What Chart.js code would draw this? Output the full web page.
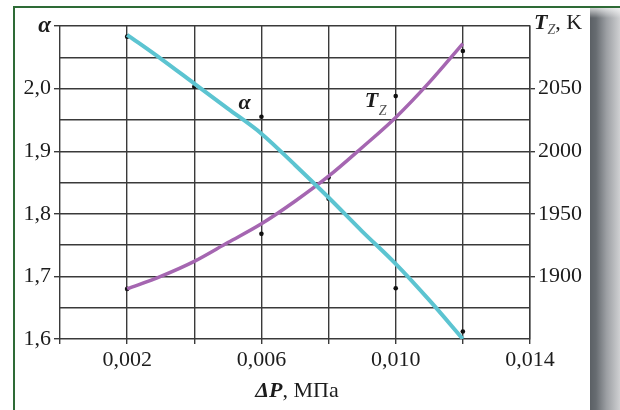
<!DOCTYPE html>
<html>
<head>
<meta charset="utf-8">
<script src="https://cdn.jsdelivr.net/npm/chart.js@4/dist/chart.umd.min.js"></script>
<style>
  body { margin: 0; background: #fff; width: 620px; height: 410px; overflow: hidden; position: relative; }
  .frame { position: absolute; left: 13px; top: 6px; right: 0; bottom: 0; border-left: 2px solid #2e6b36; border-top: 2px solid #2e6b36; }
  .shadow { position: absolute; left: 590px; top: 8px; width: 30px; bottom: 0;
    background: linear-gradient(to right, #5b6065 0%, #676c71 20%, #9c9fa3 55%, #cfd0d2 100%); }
  .shadow-top { position: absolute; left: 590px; top: 8px; width: 30px; height: 10px;
    background: linear-gradient(to bottom, rgba(255,255,255,0.7), rgba(255,255,255,0)); }
  canvas { position: absolute; left: 0; top: 0; }
</style>
</head>
<body>
<div class="frame"></div>
<div class="shadow"></div>
<div class="shadow-top"></div>
<canvas id="chart" width="620" height="410"></canvas>
<script>
"use strict";
// pressure drop, MPa
const dpCurve = [0.002, 0.003, 0.004, 0.005, 0.006, 0.007, 0.008, 0.009, 0.010, 0.011, 0.012];
const alphaCurve = [2.086, 2.048, 2.008, 1.968, 1.928, 1.878, 1.826, 1.772, 1.720, 1.662, 1.600];
const tzCurve = [1890, 1900, 1912, 1927, 1942, 1960, 1980, 2003, 2027, 2055, 2086];

// measured points
const dpAlphaPts = [0.002, 0.004, 0.006, 0.008, 0.010, 0.012];
const alphaPts = [2.083, 2.003, 1.955, 1.824, 1.681, 1.612];
const dpTzPts = [0.002, 0.006, 0.008, 0.010, 0.012];
const tzPts = [1890, 1934, 1979, 2044, 2080];

const xLabelTicks = [0.002, 0.006, 0.010, 0.014];
const leftLabelTicks = [1.6, 1.7, 1.8, 1.9, 2.0];
const rightLabelTicks = [1900, 1950, 2000, 2050];

const SERIF = "'Liberation Serif', 'DejaVu Serif', serif";
const GRID = "#3a3a3a";
const TXT = "#1c1c1c";

function near(v, list, eps) {
  return list.some(t => Math.abs(t - v) < eps);
}
function pts(xs, ys) {
  return xs.map((x, i) => ({ x: x, y: ys[i] }));
}

const textPlugin = {
  id: "texts",
  afterDraw(chart) {
    const ctx = chart.ctx;
    const x = chart.scales.x, y = chart.scales.y, y2 = chart.scales.y2;
    ctx.save();
    ctx.fillStyle = TXT;
    ctx.textBaseline = "middle";

    // curve label alpha
    ctx.font = "italic bold 22px " + SERIF;
    ctx.textAlign = "center";
    ctx.fillText("α", x.getPixelForValue(0.0055), y.getPixelForValue(1.976));

    // curve label T_Z
    let tx = x.getPixelForValue(0.0094), ty = y2.getPixelForValue(2040);
    ctx.font = "italic bold 22px " + SERIF;
    ctx.fillText("T", tx - 4, ty);
    ctx.font = "italic 14px " + SERIF;
    ctx.fillStyle = "#555";
    ctx.fillText("Z", tx + 7, ty + 10);

    // right axis title
    let rx = chart.chartArea.right + 4, ry = y2.getPixelForValue(2100) - 3;
    ctx.textAlign = "left";
    ctx.fillStyle = TXT;
    ctx.font = "italic bold 22px " + SERIF;
    ctx.fillText("T", rx, ry);
    let w = ctx.measureText("T").width;
    ctx.font = "italic 14px " + SERIF;
    ctx.fillStyle = "#555";
    ctx.fillText("Z", rx + w, ry + 7);
    let wz = ctx.measureText("Z").width;
    ctx.fillStyle = TXT;
    ctx.font = "22px " + SERIF;
    ctx.fillText(", K", rx + w + wz, ry);

    // x axis title
    const parts = [["ΔP", "italic bold 22px "], [", МПа", "22px "]];
    let total = 0;
    parts.forEach(p => { ctx.font = p[1] + SERIF; total += ctx.measureText(p[0]).width; });
    let cx = (chart.chartArea.left + chart.chartArea.right) / 2 + 2 - total / 2;
    parts.forEach(p => {
      ctx.font = p[1] + SERIF;
      ctx.fillText(p[0], cx, 391);
      cx += ctx.measureText(p[0]).width;
    });
    ctx.restore();
  }
};

new Chart(document.getElementById("chart"), {
  type: "scatter",
  data: {
    datasets: [
      {
        label: "alpha",
        data: pts(dpCurve, alphaCurve),
        showLine: true,
        borderColor: "#5cc4d1",
        borderWidth: 4,
        pointRadius: 0,
        cubicInterpolationMode: "monotone",
        yAxisID: "y"
      },
      {
        label: "Tz",
        data: pts(dpCurve, tzCurve),
        showLine: true,
        borderColor: "#a566b1",
        borderWidth: 3.5,
        pointRadius: 0,
        cubicInterpolationMode: "monotone",
        yAxisID: "y2"
      },
      {
        label: "alpha points",
        data: pts(dpAlphaPts, alphaPts),
        pointRadius: 2.3,
        backgroundColor: "#111",
        borderWidth: 0,
        yAxisID: "y"
      },
      {
        label: "Tz points",
        data: pts(dpTzPts, tzPts),
        pointRadius: 2.3,
        backgroundColor: "#111",
        borderWidth: 0,
        yAxisID: "y2"
      }
    ]
  },
  options: {
    responsive: false,
    animation: false,
    layout: { padding: { top: 26, left: 0, right: 0, bottom: 0 } },
    plugins: { legend: { display: false }, tooltip: { enabled: false } },
    scales: {
      x: {
        type: "linear",
        min: 0, max: 0.014,
        afterFit: s => { s.height = 71; },
        border: { display: false },
        grid: { color: GRID, lineWidth: 1.4, tickColor: GRID, tickLength: 5 },
        ticks: {
          stepSize: 0.002,
          padding: 3,
          color: TXT,
          font: { family: SERIF, size: 22 },
          maxRotation: 0,
          autoSkip: false,
          callback: v => near(v, xLabelTicks, 1e-6) ? v.toFixed(3).replace(".", ",") : ""
        }
      },
      y: {
        position: "left",
        min: 1.6, max: 2.1,
        afterFit: s => { s.width = 60; },
        border: { display: false },
        grid: {
          color: GRID, lineWidth: 1.4, tickLength: 6,
          tickColor: c => near(c.tick.value, leftLabelTicks.concat([2.1]), 1e-6) ? GRID : "rgba(0,0,0,0)"
        },
        ticks: {
          stepSize: 0.05,
          padding: 3,
          color: TXT,
          autoSkip: false,
          font: c => (c.tick && Math.abs(c.tick.value - 2.1) < 1e-6)
            ? { family: SERIF, size: 23, style: "italic", weight: "bold" }
            : { family: SERIF, size: 22 },
          callback: v => {
            if (Math.abs(v - 2.1) < 1e-6) return "α";
            return near(v, leftLabelTicks, 1e-6) ? v.toFixed(1).replace(".", ",") : "";
          }
        }
      },
      y2: {
        position: "right",
        min: 1850, max: 2100,
        afterFit: s => { s.width = 90; },
        border: { display: true, color: GRID, width: 1.4 },
        grid: {
          drawOnChartArea: false, tickLength: 5, lineWidth: 1.4,
          tickColor: c => near(c.tick.value, rightLabelTicks, 0.5) ? GRID : "rgba(0,0,0,0)"
        },
        ticks: {
          stepSize: 25,
          padding: 3,
          color: TXT,
          autoSkip: false,
          font: { family: SERIF, size: 22 },
          callback: v => near(v, rightLabelTicks, 0.5) ? String(v) : ""
        }
      }
    }
  },
  plugins: [textPlugin]
});
</script>
</body>
</html>
